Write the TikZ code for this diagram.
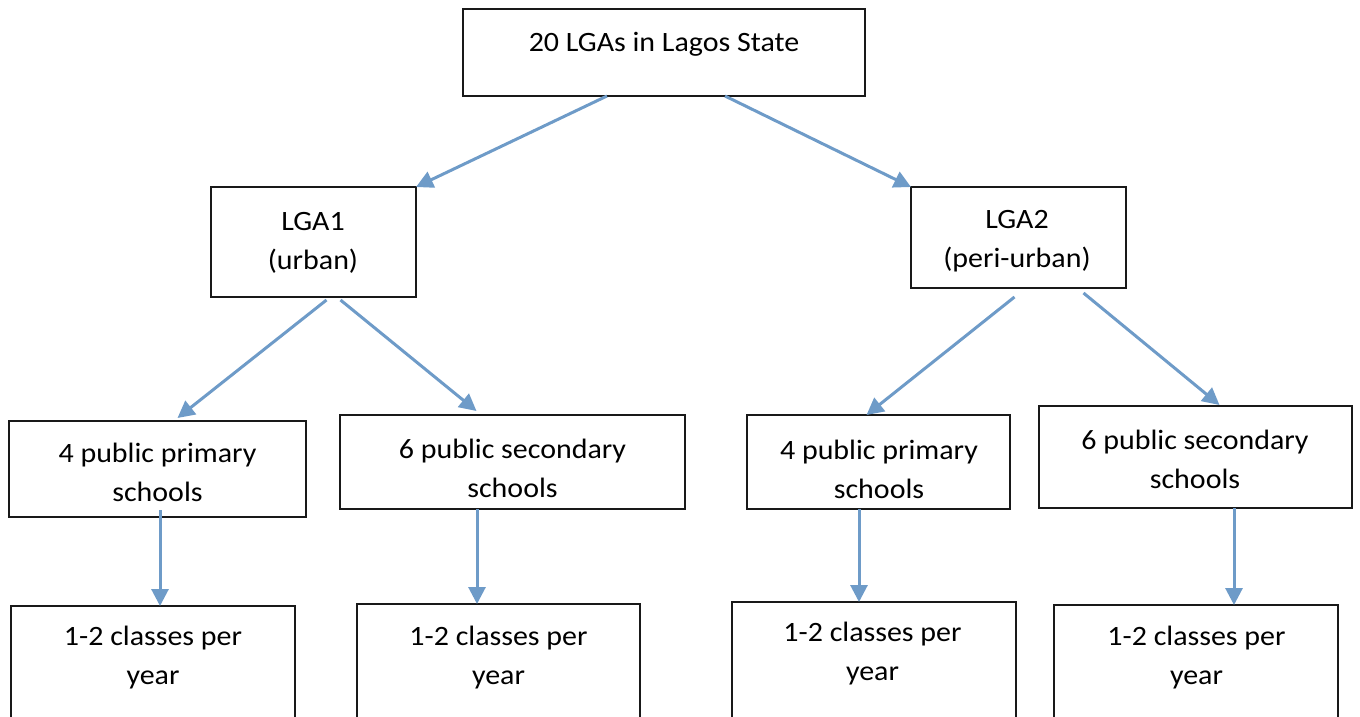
\documentclass[tikz,border=0pt]{standalone}
\usepackage{fontspec}
\setmainfont{Carlito}[FakeStretch=1.07]
\usetikzlibrary{arrows.meta}
\definecolor{arrowblue}{RGB}{110,155,200}
\definecolor{boxline}{RGB}{25,25,25}
\begin{document}
\begin{tikzpicture}[x=1pt,y=-1pt,
  box/.style={draw=boxline, line width=2.5pt, inner sep=0pt, outer sep=0pt},
  lbl/.style={font=\fontsize{28}{39}\selectfont, align=center, inner sep=0pt},
  arr/.style={draw=arrowblue, line width=3pt, -{Triangle[length=17pt,width=17pt]}}]
\useasboundingbox (0,0) rectangle (1360,717);
\clip (0,0) rectangle (1360,717);
% boxes
\node[box, minimum width=402pt, minimum height=87pt]  (top) at (664,52.5) {};
\node[box, minimum width=205pt, minimum height=110pt] (l1)  at (313.5,242) {};
\node[box, minimum width=215pt, minimum height=101pt] (l2)  at (1018.5,237.5) {};
\node[box, minimum width=297pt, minimum height=96pt]  (p1)  at (157.5,469) {};
\node[box, minimum width=345pt, minimum height=94pt]  (s1)  at (512.5,462) {};
\node[box, minimum width=263pt, minimum height=94pt]  (p2)  at (878.5,462) {};
\node[box, minimum width=313pt, minimum height=102pt] (s2)  at (1195.5,457) {};
\node[box, minimum width=284pt, minimum height=140pt] (b1)  at (153,676) {};
\node[box, minimum width=283pt, minimum height=140pt] (b2)  at (498.5,674) {};
\node[box, minimum width=284pt, minimum height=140pt] (b3)  at (874,672) {};
\node[box, minimum width=284pt, minimum height=140pt] (b4)  at (1196,675) {};
% labels
\node[lbl] (ttop) at (664,44) {20 LGAs in Lagos State};
\node[lbl] (tl1) at (313,243) {LGA1\\(urban)};
\node[lbl] (tl2) at (1017,241.5) {LGA2\\(peri-urban)};
\node[lbl] (tp1) at (157.5,472.5) {4 public primary\\schools};
\node[lbl] (ts1) at (512.5,468) {6 public secondary\\schools};
\node[lbl] (tp2) at (879,469) {4 public primary\\schools};
\node[lbl] (ts2) at (1195,459) {6 public secondary\\schools};
\node[lbl] (tb1) at (153,658) {1-2 classes per\\year};
\node[lbl] (tb2) at (498.5,657.5) {1-2 classes per\\year};
\node[lbl] (tb3) at (872.5,654) {1-2 classes per\\year};
\node[lbl] (tb4) at (1196.5,657.5) {1-2 classes per\\year};
% arrows
\draw[arr] ([xshift=-57pt]top.south) -- (l1.north east);
\draw[arr] ([xshift=61pt]top.south) -- (l2.north west);
\draw[arr] ([xshift=13pt,yshift=-3pt]l1.south) -- ([xshift=20pt,yshift=3pt]p1.north);
\draw[arr] ([xshift=27pt,yshift=-3pt]l1.south) -- ([xshift=-36pt,yshift=4pt]s1.north);
\draw[arr] ([xshift=-4pt,yshift=-9pt]l2.south) -- ([xshift=-12pt]p2.north);
\draw[arr] ([xshift=65pt,yshift=-5pt]l2.south) -- ([xshift=24pt,yshift=1pt]s2.north);
\draw[arr] ([xshift=2.5pt,yshift=7pt]p1.south) coordinate (v1) -- (v1 |- b1.north);
\draw[arr] ([xshift=-35.5pt]s1.south) coordinate (v2) -- (v2 |- b2.north);
\draw[arr] ([xshift=-19.5pt]p2.south) coordinate (v3) -- (v3 |- b3.north);
\draw[arr] ([xshift=38.5pt]s2.south) coordinate (v4) -- (v4 |- b4.north);
\end{tikzpicture}
\end{document}
